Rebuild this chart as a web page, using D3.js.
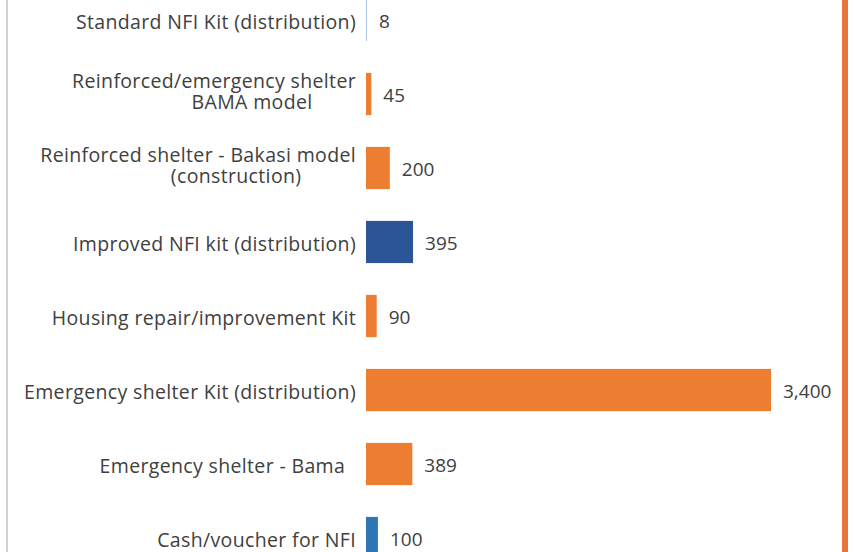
<!DOCTYPE html>
<html>
<head>
<meta charset="utf-8">
<script src="https://cdn.jsdelivr.net/npm/d3@7"></script>
<style>
  body { margin: 0; background: #fff; }
  svg { display: block; }
</style>
</head>
<body>
<div id="graph"></div>
<script>
// data
const categories = [
  ["Standard NFI Kit (distribution)"],
  ["Reinforced/emergency shelter", "BAMA model"],
  ["Reinforced shelter - Bakasi model", "(construction)"],
  ["Improved NFI kit (distribution)"],
  ["Housing repair/improvement Kit"],
  ["Emergency shelter Kit (distribution)"],
  ["Emergency shelter - Bama\u00a0\u00a0"],
  ["Cash/voucher for NFI"]
];
const values = [8, 45, 200, 395, 90, 3400, 389, 100];
const barColors = ["#a9c1e3", "#ed7d31", "#ed7d31", "#2b5597", "#ed7d31", "#ed7d31", "#ed7d31", "#2e75b6"];

const svgWidth = 854;
const svgHeight = 552;
const labelX = 356;

const svg = d3.select('#graph')
  .append('svg')
  .attr('width', svgWidth)
  .attr('height', svgHeight)
  .style('font-family', '"Open Sans", sans-serif');

// frame lines (chart is cropped on the page)
svg.append('rect')
  .attr('x', 6).attr('y', 0)
  .attr('width', 2).attr('height', svgHeight)
  .attr('fill', '#d0d0d0');
svg.append('rect')
  .attr('x', 842).attr('y', 0)
  .attr('width', 6).attr('height', svgHeight)
  .attr('fill', '#e9733a');

const idx = d3.range(categories.length);

// y scale (categories)
const y = d3.scaleBand()
  .domain(idx)
  .range([-17, 575])
  .paddingInner(0.43)
  .paddingOuter(0.215);

// x scale (values)
const x = d3.scaleLinear()
  .domain([0, 3400])
  .range([366, 771]);

svg.selectAll('.bar')
  .data(values)
  .enter()
  .append('rect')
  .attr('class', 'bar')
  .attr('x', x(0))
  .attr('y', (d, i) => y(i))
  .attr('width', d => x(d) - x(0))
  .attr('height', y.bandwidth())
  .attr('fill', (d, i) => barColors[i]);

// value labels
svg.selectAll('.val')
  .data(values)
  .enter()
  .append('text')
  .attr('class', 'val')
  .attr('x', d => x(d) + 12)
  .attr('y', (d, i) => y(i) + y.bandwidth() / 2 + 8)
  .attr('font-size', '19px')
  .attr('fill', '#404040')
  .text(d => d3.format(',')(d));

// category labels
const lab = svg.selectAll('.cat')
  .data(categories)
  .enter()
  .append('text')
  .attr('class', 'cat')
  .attr('font-size', '19.5px')
  .attr('letter-spacing', '0.35px')
  .attr('fill', '#404040')
  .attr('xml:space', 'preserve');

lab.each(function(lines, i) {
  const t = d3.select(this);
  const cy = y(i) + y.bandwidth() / 2;
  if (lines.length === 1) {
    t.append('tspan')
      .attr('x', labelX)
      .attr('y', cy + 9)
      .attr('text-anchor', 'end')
      .text(lines[0]);
  } else {
    const first = t.append('tspan')
      .attr('x', labelX)
      .attr('y', cy - 6)
      .attr('text-anchor', 'end')
      .text(lines[0]);
    const w = first.node().getComputedTextLength();
    t.append('tspan')
      .attr('x', labelX - w / 2 + 38)
      .attr('y', cy + 15)
      .attr('text-anchor', 'middle')
      .text(lines[1]);
  }
});
</script>
</body>
</html>
